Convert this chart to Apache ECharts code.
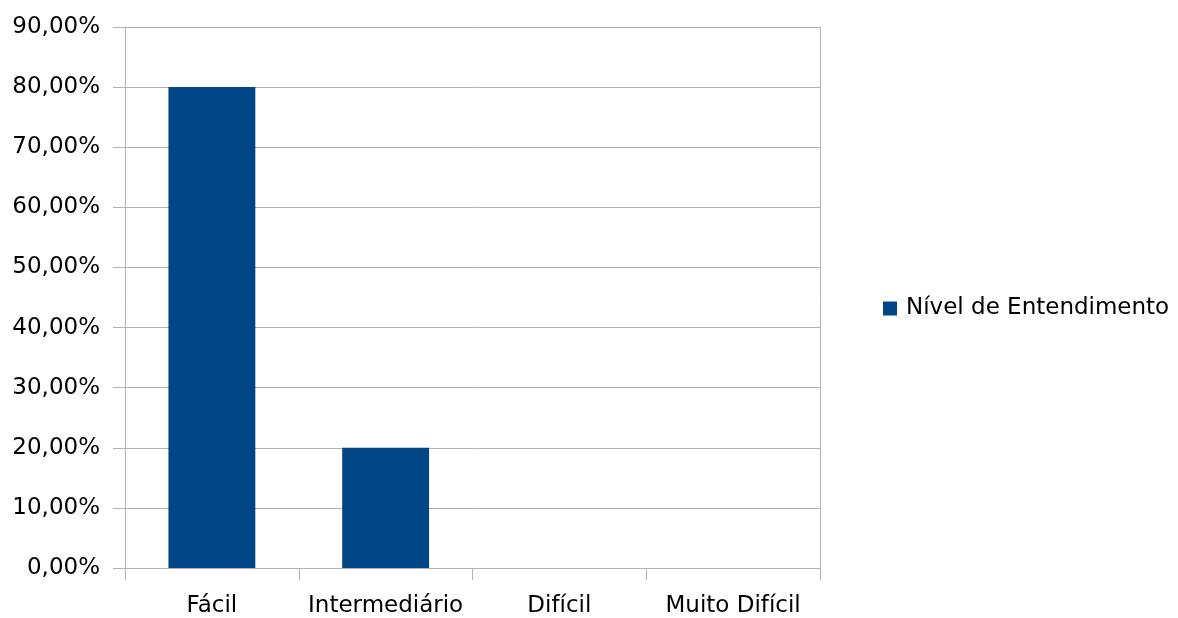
<!DOCTYPE html>
<html>
<head>
<meta charset="utf-8">
<script src="https://cdn.jsdelivr.net/npm/echarts@6/dist/echarts.min.js"></script>
<style>
  html, body { margin: 0; padding: 0; background: #ffffff; }
  #chart { width: 1178px; height: 618px; }
</style>
</head>
<body>
<div id="chart"></div>
<script>
// Levels of understanding and the share of answers for each
const categories = ['Fácil', 'Intermediário', 'Difícil', 'Muito Difícil'];
const seriesName = 'Nível de Entendimento';
const values = [80, 20, 0, 0];
const yMax = 90;
const yStep = 10;

const gridColor = '#b3b3b3';
const textFont = { fontFamily: 'DejaVu Sans', fontSize: 23, color: '#000000' };

const chart = echarts.init(document.getElementById('chart'), null, { renderer: 'canvas' });

chart.setOption({
  animation: false,
  backgroundColor: '#ffffff',
  grid: { left: 125, right: 358, top: 27, bottom: 49, containLabel: false },
  legend: {
    data: [seriesName],
    orient: 'vertical',
    left: 878,
    top: 292,
    icon: 'rect',
    itemWidth: 14,
    itemHeight: 14,
    textStyle: Object.assign({ padding: [0, 0, 0, 4] }, textFont)
  },
  xAxis: {
    type: 'category',
    data: categories,
    boundaryGap: true,
    axisLine: { show: true, lineStyle: { color: gridColor, width: 1 } },
    axisTick: { show: true, length: 12, alignWithLabel: false, lineStyle: { color: gridColor } },
    axisLabel: Object.assign({ margin: 27, interval: 0 }, textFont),
    splitLine: { show: false }
  },
  yAxis: [{
    type: 'value',
    min: 0,
    max: yMax,
    interval: yStep,
    axisLine: { show: true, lineStyle: { color: gridColor, width: 1 } },
    axisTick: { show: true, length: 12, lineStyle: { color: gridColor } },
    axisLabel: Object.assign({
      margin: 25,
      padding: [3, 0, 0, 0],
      formatter: v => v.toFixed(2).replace('.', ',') + '%'
    }, textFont),
    splitLine: { show: true, lineStyle: { color: gridColor, width: 1 } }
  }, {
    // right-hand frame of the plot area
    type: 'value',
    position: 'right',
    min: 0,
    max: yMax,
    interval: yStep,
    axisLine: { show: true, lineStyle: { color: gridColor, width: 1 } },
    axisTick: { show: false },
    axisLabel: { show: false },
    splitLine: { show: false }
  }],
  series: [{
    name: seriesName,
    type: 'bar',
    data: values,
    barWidth: '50%',
    itemStyle: { color: '#004586' }
  }]
});
</script>
</body>
</html>
